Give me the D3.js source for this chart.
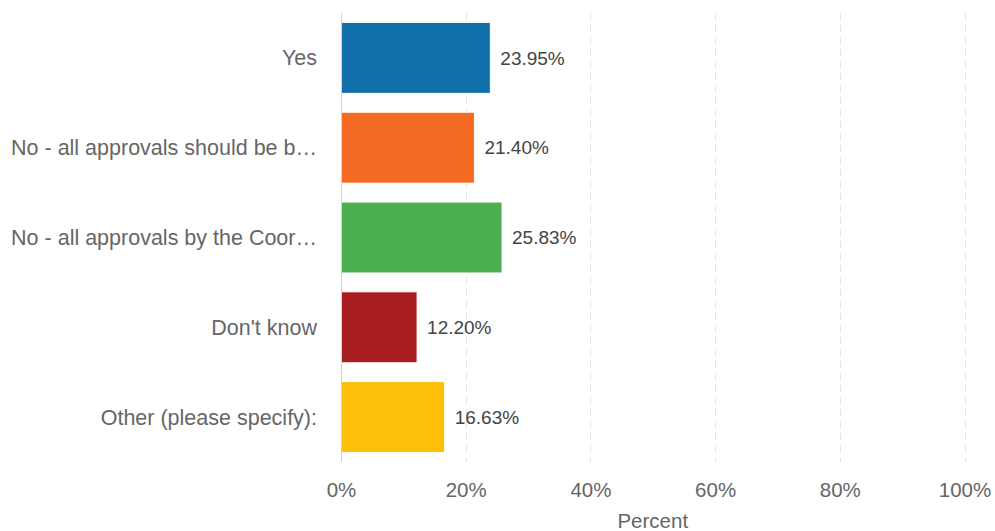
<!DOCTYPE html>
<html>
<head>
<meta charset="utf-8">
<script src="https://cdn.jsdelivr.net/npm/d3@7"></script>
<style>
  html, body { margin: 0; padding: 0; background: #ffffff; }
  svg { display: block; font-family: "Liberation Sans", Arial, sans-serif; }
</style>
</head>
<body>
<svg id="chart" width="995" height="531"></svg>
<script>
// Survey responses (percent of respondents)
const categories = [
  "Yes",
  "No - all approvals should be b\u2026",
  "No - all approvals by the Coor\u2026",
  "Don't know",
  "Other (please specify):"
];
const values = [23.95, 21.40, 25.83, 12.20, 16.63];
const colors = ["#1170aa", "#f46a22", "#4caf50", "#a61c1f", "#fdbf08"];
const tickValues = [0, 20, 40, 60, 80, 100];
const axisTitle = "Percent";

const svg = d3.select("#chart");
const plot = { left: 341, right: 964.5, top: 13, bottom: 462 };

const x = d3.scaleLinear().domain([0, 100]).range([plot.left, plot.right]);
const y = d3.scaleBand().domain(categories).range([plot.top, plot.bottom]).paddingInner(0.21).paddingOuter(0.105);

// dashed vertical grid lines
svg.append("g").selectAll("line")
  .data(tickValues.filter(t => t > 0))
  .join("line")
  .attr("x1", d => Math.round(x(d)) + 0.5)
  .attr("x2", d => Math.round(x(d)) + 0.5)
  .attr("y1", plot.top)
  .attr("y2", plot.bottom)
  .attr("stroke", "#e3e3e3")
  .attr("stroke-width", 1)
  .attr("stroke-dasharray", "7,5");

// bars
svg.append("g").selectAll("rect")
  .data(values)
  .join("rect")
  .attr("x", x(0))
  .attr("y", (d, i) => y(categories[i]))
  .attr("width", d => x(d) - x(0))
  .attr("height", y.bandwidth())
  .attr("fill", (d, i) => colors[i])
  .attr("stroke", "#ffffff")
  .attr("stroke-width", 1);

// category axis line
svg.append("line")
  .attr("x1", plot.left + 0.5).attr("x2", plot.left + 0.5)
  .attr("y1", plot.top).attr("y2", plot.bottom)
  .attr("stroke", "#ccd6eb").attr("stroke-width", 1);

// category labels
svg.append("g").selectAll("text")
  .data(categories)
  .join("text")
  .attr("x", plot.left - 24)
  .attr("y", d => y(d) + y.bandwidth() / 2)
  .attr("dy", "0.35em")
  .attr("text-anchor", "end")
  .attr("font-size", 21.5)
  .attr("fill", "#666666")
  .text(d => d);

// value labels
svg.append("g").selectAll("text")
  .data(values)
  .join("text")
  .attr("x", d => x(d) + 10)
  .attr("y", (d, i) => y(categories[i]) + y.bandwidth() / 2)
  .attr("dy", "0.35em")
  .attr("font-size", 19)
  .attr("fill", "#444444")
  .text(d => d.toFixed(2) + "%");

// percent axis tick labels
const xAxis = d3.axisBottom(x).tickValues(tickValues).tickSize(0).tickFormat(d => d + "%");
const gx = svg.append("g").attr("transform", `translate(0,${plot.bottom})`).call(xAxis);
gx.select(".domain").remove();
gx.selectAll("text")
  .attr("y", 0)
  .attr("dy", null)
  .attr("transform", "translate(0,34.5)")
  .attr("font-size", 20.5)
  .attr("font-family", "Liberation Sans, Arial, sans-serif")
  .attr("fill", "#666666");

// axis title
svg.append("text")
  .attr("x", (plot.left + plot.right) / 2)
  .attr("y", 528)
  .attr("text-anchor", "middle")
  .attr("font-size", 20.5)
  .attr("fill", "#666666")
  .text(axisTitle);
</script>
</body>
</html>
